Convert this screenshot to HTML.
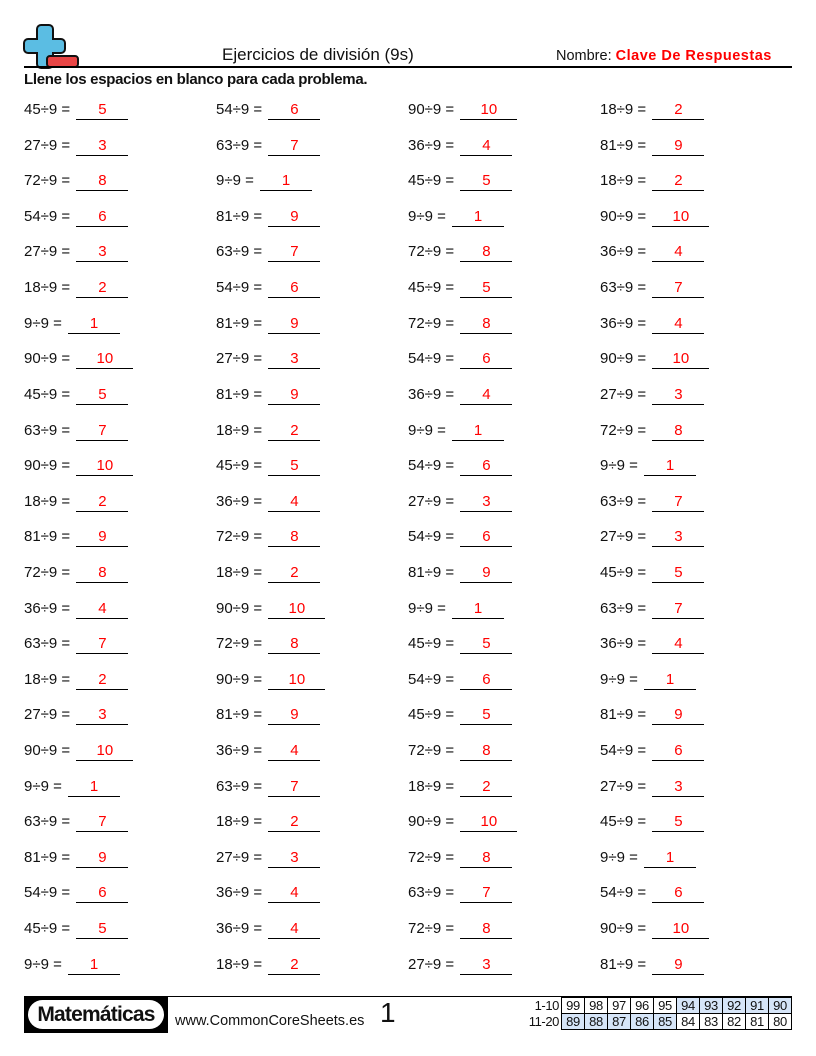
<!DOCTYPE html>
<html><head><meta charset="utf-8"><style>
body{margin:0;width:816px;height:1056px;position:relative;background:#fff;font-family:"Liberation Sans",sans-serif;color:#111;overflow:hidden}
.a{position:absolute;white-space:nowrap}
.r{position:absolute;left:0;width:816px;height:24px}
.c{position:absolute;top:0;font-size:15px;line-height:20px;letter-spacing:0}
.c b{display:inline-block;width:52px;border-bottom:1px solid #000;text-align:center;color:#f00;font-weight:normal;line-height:19px;margin-left:2px}
.c b.w{width:57px}
table{border-collapse:collapse;position:absolute;left:562px;top:997px;font-size:13px;letter-spacing:-0.4px}
td{border:1px solid #000;width:20px;height:15px;padding:0 1px;text-align:center;line-height:15px}
td.l{border:none;text-align:right;width:34px;padding-right:2px}
.bl{background:#d6e5f8}
</style></head><body>
<svg class="a" style="left:0;top:0" width="90" height="75">
<path d="M41 25h8a4 4 0 0 1 4 4v10h8a4 4 0 0 1 4 4v6a4 4 0 0 1-4 4h-8v11a4 4 0 0 1-4 4h-8a4 4 0 0 1-4-4v-11h-9a4 4 0 0 1-4-4v-6a4 4 0 0 1 4-4h9v-10a4 4 0 0 1 4-4z" fill="#5bbde3" stroke="#111" stroke-width="2"/>
<rect x="47" y="56" width="31" height="11" rx="3" fill="#e84545" stroke="#111" stroke-width="2"/>
</svg>
<div class="a" style="left:24px;top:66px;width:768px;height:2px;background:#000"></div>
<div class="a" style="left:222px;top:45px;font-size:17px">Ejercicios de división (9s)</div>
<div class="a" style="left:556px;top:48px;font-size:14.5px">Nombre: <span style="color:#f00;font-weight:bold;letter-spacing:0.5px">Clave De Respuestas</span></div>
<div class="a" style="left:24px;top:71px;font-size:15px;font-weight:bold;letter-spacing:-0.3px">Llene los espacios en blanco para cada problema.</div>

<div class="r" style="top:100px"><div class="c" style="left:24px">45÷9 = <b>5</b></div><div class="c" style="left:216px">54÷9 = <b>6</b></div><div class="c" style="left:408px">90÷9 = <b class="w">10</b></div><div class="c" style="left:600px">18÷9 = <b>2</b></div></div>
<div class="r" style="top:136px"><div class="c" style="left:24px">27÷9 = <b>3</b></div><div class="c" style="left:216px">63÷9 = <b>7</b></div><div class="c" style="left:408px">36÷9 = <b>4</b></div><div class="c" style="left:600px">81÷9 = <b>9</b></div></div>
<div class="r" style="top:171px"><div class="c" style="left:24px">72÷9 = <b>8</b></div><div class="c" style="left:216px">9÷9 = <b>1</b></div><div class="c" style="left:408px">45÷9 = <b>5</b></div><div class="c" style="left:600px">18÷9 = <b>2</b></div></div>
<div class="r" style="top:207px"><div class="c" style="left:24px">54÷9 = <b>6</b></div><div class="c" style="left:216px">81÷9 = <b>9</b></div><div class="c" style="left:408px">9÷9 = <b>1</b></div><div class="c" style="left:600px">90÷9 = <b class="w">10</b></div></div>
<div class="r" style="top:242px"><div class="c" style="left:24px">27÷9 = <b>3</b></div><div class="c" style="left:216px">63÷9 = <b>7</b></div><div class="c" style="left:408px">72÷9 = <b>8</b></div><div class="c" style="left:600px">36÷9 = <b>4</b></div></div>
<div class="r" style="top:278px"><div class="c" style="left:24px">18÷9 = <b>2</b></div><div class="c" style="left:216px">54÷9 = <b>6</b></div><div class="c" style="left:408px">45÷9 = <b>5</b></div><div class="c" style="left:600px">63÷9 = <b>7</b></div></div>
<div class="r" style="top:314px"><div class="c" style="left:24px">9÷9 = <b>1</b></div><div class="c" style="left:216px">81÷9 = <b>9</b></div><div class="c" style="left:408px">72÷9 = <b>8</b></div><div class="c" style="left:600px">36÷9 = <b>4</b></div></div>
<div class="r" style="top:349px"><div class="c" style="left:24px">90÷9 = <b class="w">10</b></div><div class="c" style="left:216px">27÷9 = <b>3</b></div><div class="c" style="left:408px">54÷9 = <b>6</b></div><div class="c" style="left:600px">90÷9 = <b class="w">10</b></div></div>
<div class="r" style="top:385px"><div class="c" style="left:24px">45÷9 = <b>5</b></div><div class="c" style="left:216px">81÷9 = <b>9</b></div><div class="c" style="left:408px">36÷9 = <b>4</b></div><div class="c" style="left:600px">27÷9 = <b>3</b></div></div>
<div class="r" style="top:421px"><div class="c" style="left:24px">63÷9 = <b>7</b></div><div class="c" style="left:216px">18÷9 = <b>2</b></div><div class="c" style="left:408px">9÷9 = <b>1</b></div><div class="c" style="left:600px">72÷9 = <b>8</b></div></div>
<div class="r" style="top:456px"><div class="c" style="left:24px">90÷9 = <b class="w">10</b></div><div class="c" style="left:216px">45÷9 = <b>5</b></div><div class="c" style="left:408px">54÷9 = <b>6</b></div><div class="c" style="left:600px">9÷9 = <b>1</b></div></div>
<div class="r" style="top:492px"><div class="c" style="left:24px">18÷9 = <b>2</b></div><div class="c" style="left:216px">36÷9 = <b>4</b></div><div class="c" style="left:408px">27÷9 = <b>3</b></div><div class="c" style="left:600px">63÷9 = <b>7</b></div></div>
<div class="r" style="top:527px"><div class="c" style="left:24px">81÷9 = <b>9</b></div><div class="c" style="left:216px">72÷9 = <b>8</b></div><div class="c" style="left:408px">54÷9 = <b>6</b></div><div class="c" style="left:600px">27÷9 = <b>3</b></div></div>
<div class="r" style="top:563px"><div class="c" style="left:24px">72÷9 = <b>8</b></div><div class="c" style="left:216px">18÷9 = <b>2</b></div><div class="c" style="left:408px">81÷9 = <b>9</b></div><div class="c" style="left:600px">45÷9 = <b>5</b></div></div>
<div class="r" style="top:599px"><div class="c" style="left:24px">36÷9 = <b>4</b></div><div class="c" style="left:216px">90÷9 = <b class="w">10</b></div><div class="c" style="left:408px">9÷9 = <b>1</b></div><div class="c" style="left:600px">63÷9 = <b>7</b></div></div>
<div class="r" style="top:634px"><div class="c" style="left:24px">63÷9 = <b>7</b></div><div class="c" style="left:216px">72÷9 = <b>8</b></div><div class="c" style="left:408px">45÷9 = <b>5</b></div><div class="c" style="left:600px">36÷9 = <b>4</b></div></div>
<div class="r" style="top:670px"><div class="c" style="left:24px">18÷9 = <b>2</b></div><div class="c" style="left:216px">90÷9 = <b class="w">10</b></div><div class="c" style="left:408px">54÷9 = <b>6</b></div><div class="c" style="left:600px">9÷9 = <b>1</b></div></div>
<div class="r" style="top:705px"><div class="c" style="left:24px">27÷9 = <b>3</b></div><div class="c" style="left:216px">81÷9 = <b>9</b></div><div class="c" style="left:408px">45÷9 = <b>5</b></div><div class="c" style="left:600px">81÷9 = <b>9</b></div></div>
<div class="r" style="top:741px"><div class="c" style="left:24px">90÷9 = <b class="w">10</b></div><div class="c" style="left:216px">36÷9 = <b>4</b></div><div class="c" style="left:408px">72÷9 = <b>8</b></div><div class="c" style="left:600px">54÷9 = <b>6</b></div></div>
<div class="r" style="top:777px"><div class="c" style="left:24px">9÷9 = <b>1</b></div><div class="c" style="left:216px">63÷9 = <b>7</b></div><div class="c" style="left:408px">18÷9 = <b>2</b></div><div class="c" style="left:600px">27÷9 = <b>3</b></div></div>
<div class="r" style="top:812px"><div class="c" style="left:24px">63÷9 = <b>7</b></div><div class="c" style="left:216px">18÷9 = <b>2</b></div><div class="c" style="left:408px">90÷9 = <b class="w">10</b></div><div class="c" style="left:600px">45÷9 = <b>5</b></div></div>
<div class="r" style="top:848px"><div class="c" style="left:24px">81÷9 = <b>9</b></div><div class="c" style="left:216px">27÷9 = <b>3</b></div><div class="c" style="left:408px">72÷9 = <b>8</b></div><div class="c" style="left:600px">9÷9 = <b>1</b></div></div>
<div class="r" style="top:883px"><div class="c" style="left:24px">54÷9 = <b>6</b></div><div class="c" style="left:216px">36÷9 = <b>4</b></div><div class="c" style="left:408px">63÷9 = <b>7</b></div><div class="c" style="left:600px">54÷9 = <b>6</b></div></div>
<div class="r" style="top:919px"><div class="c" style="left:24px">45÷9 = <b>5</b></div><div class="c" style="left:216px">36÷9 = <b>4</b></div><div class="c" style="left:408px">72÷9 = <b>8</b></div><div class="c" style="left:600px">90÷9 = <b class="w">10</b></div></div>
<div class="r" style="top:955px"><div class="c" style="left:24px">9÷9 = <b>1</b></div><div class="c" style="left:216px">18÷9 = <b>2</b></div><div class="c" style="left:408px">27÷9 = <b>3</b></div><div class="c" style="left:600px">81÷9 = <b>9</b></div></div>

<div class="a" style="left:24px;top:996px;width:768px;height:1px;background:#000"></div>
<div class="a" style="left:24px;top:996px;width:144px;height:37px;background:#000"></div>
<div class="a" style="left:28px;top:1000px;width:136px;height:29px;border-radius:15px;background:#fff;font-size:21px;font-weight:bold;line-height:29px;text-align:center;letter-spacing:-0.8px">Matemáticas</div>
<div class="a" style="left:175px;top:1013px;font-size:14.5px">www.CommonCoreSheets.es</div>
<div class="a" style="left:380px;top:997px;font-size:28px">1</div>
<table style="left:524px">
<tr><td class="l">1-10</td><td>99</td><td>98</td><td>97</td><td>96</td><td>95</td><td class="bl">94</td><td class="bl">93</td><td class="bl">92</td><td class="bl">91</td><td class="bl">90</td></tr>
<tr><td class="l">11-20</td><td class="bl">89</td><td class="bl">88</td><td class="bl">87</td><td class="bl">86</td><td class="bl">85</td><td>84</td><td>83</td><td>82</td><td>81</td><td>80</td></tr>
</table>
</body></html>
